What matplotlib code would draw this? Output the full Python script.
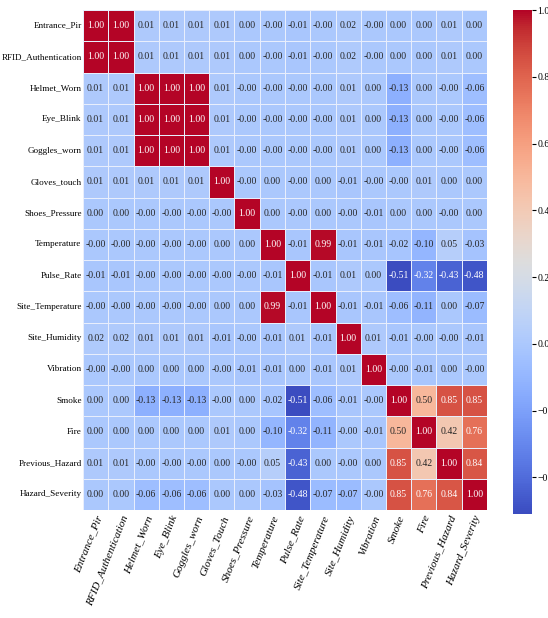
import numpy as np
import pandas as pd
import matplotlib
matplotlib.use("Agg")
import matplotlib.pyplot as plt
import seaborn as sns

plt.rcParams['font.family'] = ['Liberation Serif', 'DejaVu Serif']

row_labels = ["Entrance_Pir", "RFID_Authentication", "Helmet_Worn", "Eye_Blink",
              "Goggles_worn", "Gloves_touch", "Shoes_Pressure", "Temperature",
              "Pulse_Rate", "Site_Temperature", "Site_Humidity", "Vibration",
              "Smoke", "Fire", "Previous_Hazard", "Hazard_Severity"]
col_labels = ["Entrance_Pir", "RFID_Authentication", "Helmet_Worn", "Eye_Blink",
              "Goggles_worn", "Gloves_Touch", "Shoes_Pressure", "Temperature",
              "Pulse_Rate", "Site_Temperature", "Site_Humidity", "Vibration",
              "Smoke", "Fire", "Previous_Hazard", "Hazard_Severity"]

r_entrance = [1.00, 1.00, 0.01, 0.01, 0.01, 0.01, 0.00, -0.001, -0.01, -0.001, 0.02, -0.001, 0.00, 0.00, 0.01, 0.00]
r_rfid     = [1.00, 1.00, 0.01, 0.01, 0.01, 0.01, 0.00, -0.001, -0.01, -0.001, 0.02, -0.001, 0.00, 0.00, 0.01, 0.00]
r_helmet   = [0.01, 0.01, 1.00, 1.00, 1.00, 0.01, -0.001, -0.001, -0.001, -0.001, 0.01, 0.00, -0.13, 0.00, -0.001, -0.06]
r_eye      = [0.01, 0.01, 1.00, 1.00, 1.00, 0.01, -0.001, -0.001, -0.001, -0.001, 0.01, 0.00, -0.13, 0.00, -0.001, -0.06]
r_goggles  = [0.01, 0.01, 1.00, 1.00, 1.00, 0.01, -0.001, -0.001, -0.001, -0.001, 0.01, 0.00, -0.13, 0.00, -0.001, -0.06]
r_gloves   = [0.01, 0.01, 0.01, 0.01, 0.01, 1.00, -0.001, 0.00, -0.001, 0.00, -0.01, -0.001, -0.001, 0.01, 0.00, 0.00]
r_shoes    = [0.00, 0.00, -0.001, -0.001, -0.001, -0.001, 1.00, 0.00, -0.001, 0.00, -0.001, -0.01, 0.00, 0.00, -0.001, 0.00]
r_temp     = [-0.001, -0.001, -0.001, -0.001, -0.001, 0.00, 0.00, 1.00, -0.01, 0.99, -0.01, -0.01, -0.02, -0.10, 0.05, -0.03]
r_pulse    = [-0.01, -0.01, -0.001, -0.001, -0.001, -0.001, -0.001, -0.01, 1.00, -0.01, 0.01, 0.00, -0.51, -0.32, -0.43, -0.48]
r_sitetemp = [-0.001, -0.001, -0.001, -0.001, -0.001, 0.00, 0.00, 0.99, -0.01, 1.00, -0.01, -0.01, -0.06, -0.11, 0.00, -0.07]
r_humidity = [0.02, 0.02, 0.01, 0.01, 0.01, -0.01, -0.001, -0.01, 0.01, -0.01, 1.00, 0.01, -0.01, -0.001, -0.001, -0.01]
r_vibr     = [-0.001, -0.001, 0.00, 0.00, 0.00, -0.001, -0.01, -0.01, 0.00, -0.01, 0.01, 1.00, -0.001, -0.01, 0.00, -0.001]
r_smoke    = [0.00, 0.00, -0.13, -0.13, -0.13, -0.001, 0.00, -0.02, -0.51, -0.06, -0.01, -0.001, 1.00, 0.50, 0.85, 0.85]
r_fire     = [0.00, 0.00, 0.00, 0.00, 0.00, 0.01, 0.00, -0.10, -0.32, -0.11, -0.001, -0.01, 0.50, 1.00, 0.42, 0.76]
r_prev     = [0.01, 0.01, -0.001, -0.001, -0.001, 0.00, -0.001, 0.05, -0.43, 0.00, -0.001, 0.00, 0.85, 0.42, 1.00, 0.84]
r_hazard   = [0.00, 0.00, -0.06, -0.06, -0.06, 0.00, 0.00, -0.03, -0.48, -0.07, -0.07, -0.001, 0.85, 0.76, 0.84, 1.00]

matrix = np.array([r_entrance, r_rfid, r_helmet, r_eye, r_goggles, r_gloves, r_shoes,
                   r_temp, r_pulse, r_sitetemp, r_humidity, r_vibr, r_smoke, r_fire,
                   r_prev, r_hazard])
df = pd.DataFrame(matrix, index=row_labels, columns=col_labels)

W, H = 548, 618
fig = plt.figure(figsize=(W / 100, H / 100), dpi=100)
ax = fig.add_axes([83 / W, 1 - 510 / H, 404 / W, 500 / H])
cax = fig.add_axes([513 / W, 1 - 514 / H, 19 / W, 504 / H])

sns.heatmap(df, ax=ax, cbar_ax=cax, cmap="coolwarm", annot=True, fmt=".2f",
            annot_kws={"size": 7}, linewidths=0.6, linecolor="#e8eefc",
            vmin=-0.51, vmax=1.0)

ax.set_xticklabels(col_labels, rotation=68, ha="right", rotation_mode="anchor",
                   fontsize=8, fontstyle="italic")
ax.set_yticklabels(row_labels, rotation=0, fontsize=6.6)
ax.tick_params(axis="y", length=0, pad=1)
ax.tick_params(axis="x", length=0, pad=3)
cax.set_yticks([-0.4, -0.2, 0.0, 0.2, 0.4, 0.6, 0.8, 1.0])
cax.tick_params(labelsize=7, length=3, pad=1)

fig.savefig("out.png", dpi=100)
